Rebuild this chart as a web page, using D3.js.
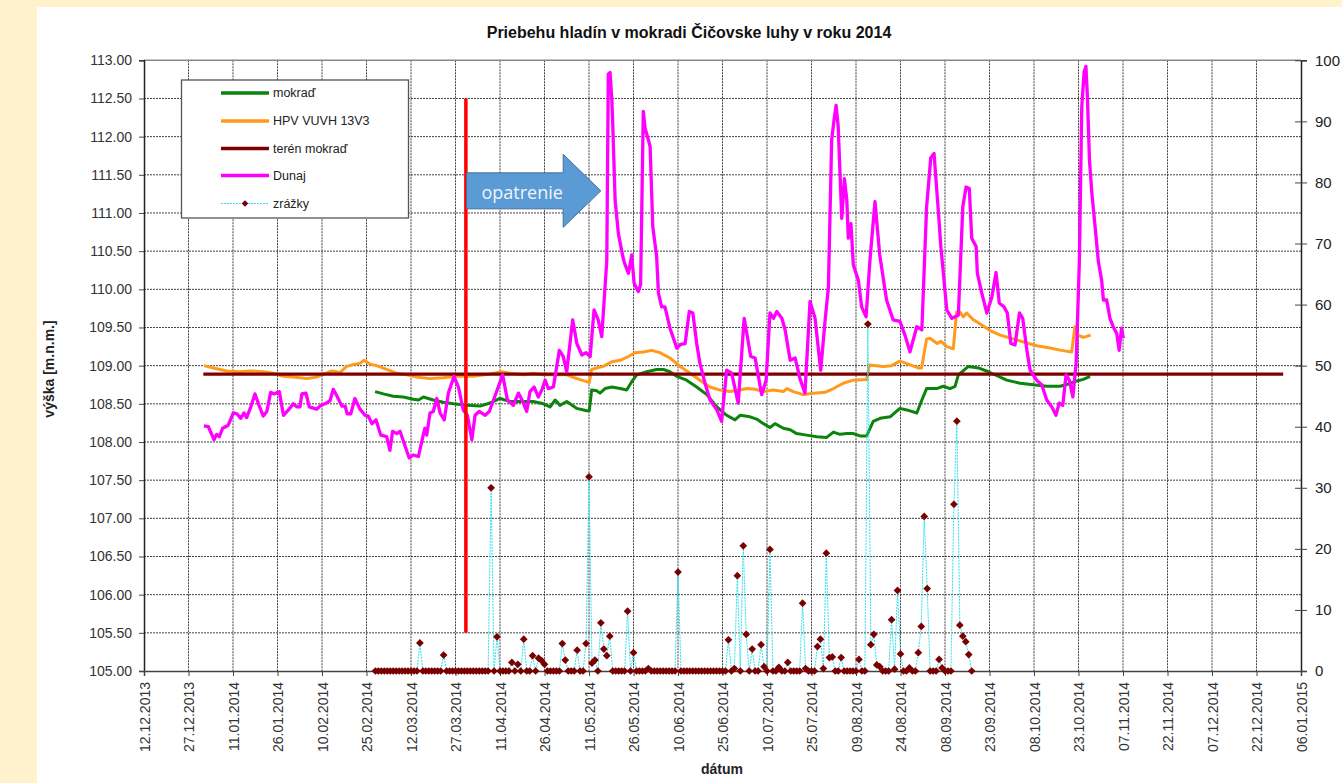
<!DOCTYPE html>
<html><head><meta charset="utf-8">
<script src="https://cdn.jsdelivr.net/npm/d3@7"></script>
<style>
html,body{margin:0;padding:0;background:#fff;}
svg{display:block;font-family:"Liberation Sans",Arial,sans-serif;}
</style></head>
<body>
<svg id="chart" width="1342" height="783"></svg>
<script>
// ---------------- DATA ----------------
// x values: day of year 2014 (1 = 01.01.2014)
const titleText = "Priebehu hladín v mokradi Čičovske luhy v roku 2014";
const seriesNames = ["mokraď", "HPV VUVH 13V3", "terén mokraď", "Dunaj", "zrážky"];
const dateRange = ["2013-12-12", "2015-01-06"];
const leftTicks = [105, 105.5, 106, 106.5, 107, 107.5, 108, 108.5, 109, 109.5, 110, 110.5, 111, 111.5, 112, 112.5, 113];
const rightTicks = [0, 10, 20, 30, 40, 50, 60, 70, 80, 90, 100];

const mokrad = [[58.9,108.66],[61.7,108.63],[65.0,108.60],[68.4,108.59],[71.8,108.56],[73.5,108.55],[75.2,108.59],[78.5,108.55],[81.9,108.52],[85.3,108.50],[89.8,108.48],[94.3,108.47],[97.6,108.51],[101.0,108.57],[104.4,108.53],[108.9,108.53],[112.2,108.53],[115.6,108.50],[117.9,108.46],[119.6,108.55],[121.2,108.48],[123.5,108.53],[126.9,108.44],[130.2,108.41],[131.1,108.41],[131.9,108.68],[133.6,108.67],[134.7,108.64],[136.4,108.70],[138.7,108.72],[141.5,108.70],[143.7,108.68],[145.4,108.79],[147.1,108.88],[150.5,108.92],[153.8,108.95],[156.1,108.95],[158.3,108.92],[160.6,108.86],[163.9,108.81],[167.3,108.72],[170.7,108.62],[174.1,108.46],[177.4,108.35],[180.2,108.29],[181.9,108.35],[185.3,108.33],[187.5,108.30],[189.8,108.24],[192.0,108.19],[193.7,108.24],[196.5,108.18],[198.8,108.16],[201.0,108.11],[204.4,108.09],[207.8,108.07],[211.1,108.06],[213.4,108.13],[215.6,108.10],[217.9,108.11],[220.1,108.11],[222.4,108.08],[224.6,108.08],[226.8,108.27],[229.1,108.31],[232.5,108.33],[235.8,108.44],[238.1,108.42],[241.5,108.38],[243.2,108.55],[244.8,108.70],[248.2,108.70],[250.4,108.73],[252.7,108.70],[254.4,108.73],[255.5,108.88],[258.9,108.99],[262.3,108.97],[265.6,108.92],[271.8,108.81],[276.3,108.77],[280.8,108.75],[285.3,108.73],[289.8,108.73],[292.6,108.76],[295.4,108.80],[297.6,108.82],[299.9,108.86]];

const hpv = [[1.2,109.00],[4.4,108.97],[8.9,108.93],[13.4,108.92],[16.7,108.93],[21.2,108.92],[24.6,108.90],[28.0,108.86],[31.3,108.85],[35.9,108.83],[39.2,108.85],[40.9,108.88],[44.3,108.93],[47.1,108.91],[49.3,108.99],[52.1,109.02],[53.8,109.03],[55.2,109.07],[57.2,109.02],[59.4,109.00],[62.8,108.95],[66.2,108.90],[69.6,108.88],[72.9,108.85],[77.4,108.83],[81.9,108.84],[86.4,108.86],[92.0,108.86],[97.6,108.89],[101.6,108.92],[104.4,108.90],[108.9,108.88],[112.2,108.90],[115.6,108.88],[120.1,108.88],[123.5,108.88],[126.9,108.83],[130.2,108.79],[131.1,108.78],[131.9,108.95],[133.6,108.97],[135.8,108.99],[138.7,109.05],[141.5,109.07],[144.3,109.12],[146.5,109.17],[149.3,109.18],[152.1,109.20],[154.9,109.17],[158.3,109.10],[161.7,108.99],[165.1,108.90],[168.4,108.81],[171.8,108.72],[175.2,108.68],[178.5,108.66],[181.9,108.68],[184.2,108.70],[187.0,108.69],[189.8,108.66],[193.1,108.68],[196.5,108.66],[197.7,108.70],[199.9,108.66],[203.2,108.62],[206.6,108.64],[210.6,108.65],[213.4,108.70],[216.7,108.77],[220.1,108.81],[224.6,108.82],[225.5,109.01],[230.2,108.99],[233.0,109.00],[235.8,109.06],[238.6,109.02],[242.0,108.97],[243.1,108.97],[244.8,109.35],[245.9,109.36],[248.4,109.29],[249.6,109.32],[251.6,109.25],[253.8,109.22],[254.9,109.70],[255.8,109.71],[257.2,109.64],[258.3,109.69],[260.6,109.60],[263.9,109.52],[266.2,109.46],[269.6,109.40],[274.0,109.35],[277.4,109.31],[281.9,109.26],[286.4,109.23],[290.3,109.20],[293.7,109.18],[294.8,109.51],[295.9,109.40],[297.6,109.37],[300.1,109.40]];

const teren = [[1,108.89],[365,108.89]];

const dunaj = [[1.2,108.21],[2.7,108.20],[4.6,108.03],[5.5,108.10],[6.4,108.07],[7.5,108.18],[9.4,108.22],[11.1,108.38],[12.3,108.37],[13.6,108.31],[14.7,108.38],[15.6,108.32],[17.0,108.46],[18.4,108.63],[19.5,108.51],[21.2,108.34],[22.4,108.40],[23.7,108.65],[24.9,108.63],[26.6,108.66],[28.0,108.35],[29.7,108.42],[31.3,108.50],[32.5,108.46],[33.6,108.46],[34.2,108.63],[35.6,108.64],[36.7,108.46],[39.2,108.43],[40.6,108.48],[42.0,108.50],[43.7,108.54],[44.8,108.69],[46.2,108.59],[47.7,108.47],[48.8,108.47],[49.5,108.37],[50.7,108.37],[52.1,108.57],[53.8,108.43],[55.5,108.35],[56.6,108.34],[57.8,108.24],[59.2,108.29],[60.8,108.09],[62.8,108.07],[63.9,107.89],[64.8,108.14],[66.2,108.11],[67.3,108.14],[68.7,107.98],[70.4,107.79],[71.8,107.83],[73.5,107.81],[75.0,108.07],[75.7,108.18],[76.3,108.09],[77.4,108.38],[78.5,108.40],[79.7,108.57],[80.8,108.38],[82.2,108.29],[83.6,108.64],[85.5,108.86],[87.0,108.72],[88.6,108.42],[90.0,108.35],[91.5,108.03],[92.6,108.35],[94.0,108.40],[96.0,108.35],[97.4,108.40],[99.0,108.57],[101.9,108.88],[103.5,108.55],[105.5,108.48],[107.2,108.64],[108.7,108.53],[110.0,108.40],[111.1,108.66],[112.5,108.72],[113.9,108.59],[115.1,108.68],[116.2,108.81],[117.3,108.70],[119.0,108.72],[121.0,109.20],[122.3,109.12],[123.5,108.92],[125.5,109.60],[126.9,109.29],[128.6,109.14],[130.0,109.17],[131.4,109.12],[132.7,109.73],[134.1,109.60],[135.3,109.38],[137.0,110.38],[137.5,112.82],[138.1,112.84],[138.7,112.48],[139.0,112.17],[139.8,111.17],[140.9,110.73],[142.4,110.43],[143.0,110.34],[144.3,110.21],[145.4,110.45],[146.2,110.08],[147.6,109.97],[148.4,110.06],[149.3,112.33],[149.9,112.11],[151.0,111.96],[151.6,111.87],[152.5,110.82],[153.8,110.43],[154.4,109.95],[155.5,109.77],[156.6,109.77],[158.3,109.49],[160.6,109.23],[161.9,109.28],[163.4,109.29],[164.8,109.71],[166.0,109.69],[167.3,109.29],[168.4,109.03],[170.1,108.77],[171.8,108.55],[174.1,108.42],[175.7,108.27],[177.4,108.94],[179.1,108.90],[181.3,108.51],[183.3,109.62],[184.2,109.42],[185.5,109.12],[187.0,109.10],[189.2,108.62],[190.7,108.81],[192.0,109.69],[193.2,109.62],[194.3,109.71],[196.0,109.62],[197.1,109.47],[198.8,109.07],[200.5,109.10],[202.1,108.83],[203.8,108.64],[205.5,109.84],[207.2,109.62],[209.1,108.94],[210.6,109.60],[211.7,110.03],[212.8,111.96],[213.6,112.22],[214.3,112.41],[215.0,112.13],[216.2,110.93],[217.1,111.45],[217.9,111.17],[218.4,110.67],[219.3,110.86],[220.1,110.32],[221.8,110.12],[222.9,109.77],[224.4,109.64],[225.7,110.38],[227.4,111.15],[229.0,110.45],[231.3,109.86],[233.5,109.60],[235.8,109.58],[237.5,109.40],[239.2,109.18],[241.5,109.51],[243.2,109.47],[244.8,111.08],[246.2,111.72],[247.3,111.78],[248.8,111.00],[249.6,110.56],[251.6,109.73],[253.3,109.62],[255.5,109.66],[257.0,111.08],[258.1,111.34],[259.2,111.32],[260.0,110.67],[261.5,110.56],[261.9,110.21],[263.4,109.95],[265.1,109.69],[266.8,109.90],[268.2,110.22],[269.3,109.82],[270.9,109.77],[272.0,109.69],[273.2,109.29],[274.6,109.27],[276.1,109.69],[277.2,109.62],[278.6,109.20],[279.7,108.94],[281.9,108.81],[283.6,108.75],[285.3,108.55],[287.0,108.46],[288.4,108.35],[289.5,108.51],[290.7,108.48],[291.8,108.88],[292.9,108.81],[294.1,108.59],[295.2,109.03],[296.3,110.38],[297.1,112.39],[297.9,112.85],[298.5,112.92],[299.0,112.52],[299.7,111.69],[300.5,111.26],[301.6,110.82],[302.7,110.36],[303.8,110.12],[304.4,109.86],[305.5,109.86],[306.6,109.62],[307.7,109.51],[308.9,109.42],[309.7,109.20],[310.5,109.49],[311.1,109.36]];

// daily precipitation [mm], first value = day 59 (28.02.2014)
const zrazkyStartDay = 59;
const zrazky = [
 0,0,0,0,0,0,0,0,0,0,0,0,0,0,0,        // 59-73
 4.6,0,0,0,0,0,0,0,2.6,                // 74-82
 0,0,0,0,0,0,0,0,0,0,0,0,0,0,0,        // 83-97
 30.0,0,5.6,0,0,0,0,1.4,0,1.1,0,5.2,0,0,2.5,0,2.1,1.7,1.1, // 98-116
 0,0,0,0,0,4.5,1.8,0,0,0,3.4,0,0,4.5,31.8,1.3,1.8,0,7.9,3.6,2.5,5.7, // 117-138
 0,0,0,0,0,9.8,0,3.0,0,0,0,0,0.4,      // 139-151
 0,0,0,0,0,0,0,0,0,16.2,               // 152-161
 0,0,0,0,0,0,0,0,0,0,0,0,0,0,0,0,      // 162-177
 5.1,0,0.4,15.6,0,20.5,6.0,0,3.6,0,0,4.3,0.7,0,19.9,0,0,0.6,0,0,1.4, // 178-198
 0,0,0,0,11.1,0.4,0,0,0,4.0,5.2,0.4,19.3,2.2,2.3,0,0,2.2, // 199-216
 0,0,0,0,0,1.9,0,0,56.8,4.3,6.0,1.0,0.7,0,0,0,8.4,0.3,13.2,2.8, // 217-236
 0,0,0.5,0,0,3.0,7.3,25.3,13.5,0,0,0,1.9,0.5,0,0,0,27.3,40.9,7.5,5.7,4.8,2.7,0 // 237-260
];

// annotation: measure date and arrow placement (data coordinates)
const opatrenieDay = 89.5;       // red vertical line
const opatrenieLevels = [105.5, 112.5];
const arrowDays = [89.7, 122.3, 135.0];   // tail, head base, tip
const arrowLevel = 111.29;

// ---------------- CHART ----------------
const svg = d3.select("#chart");
const W = 1342, H = 783;
const L = 144, R = 1301, T = 60.3, B = 671;
const base2014 = new Date(2014, 0, 1);
const dayToDate = d => new Date(base2014.getTime() + (d - 1) * 864e5);
const parse = d3.timeParse("%Y-%m-%d");

const x = d3.scaleTime().domain(dateRange.map(parse)).range([L, R]);
const y = d3.scaleLinear().domain([105, 113]).range([B, T]);
const y2 = d3.scaleLinear().domain([0, 100]).range([B, T]);

// background
svg.append("rect").attr("width", W).attr("height", H).attr("fill", "#FFF2CC");
svg.append("rect").attr("x", 37).attr("y", 7).attr("width", W - 37).attr("height", H - 7).attr("fill", "#fff");

// title
svg.append("text").attr("x", 689).attr("y", 38).attr("text-anchor", "middle")
  .style("font-size", "16px").style("font-weight", "bold").attr("fill", "#111").text(titleText);

const dateTicks = d3.timeDay.range(parse(dateRange[0]), d3.timeDay.offset(parse(dateRange[1]), 1), 15);

// grid
const grid = svg.append("g");
grid.selectAll("line.h").data(leftTicks.filter(v => v > 105 && v < 113)).join("line")
  .attr("x1", L).attr("x2", R).attr("y1", d => y(d)).attr("y2", d => y(d))
  .attr("stroke", "#222").attr("stroke-width", 1).attr("stroke-dasharray", "2,1").attr("opacity", 0.85);
grid.selectAll("line.v").data(dateTicks.filter((d, i) => i > 0 && i < dateTicks.length - 1)).join("line")
  .attr("y1", T).attr("y2", B).attr("x1", d => x(d)).attr("x2", d => x(d))
  .attr("stroke", "#222").attr("stroke-width", 1).attr("stroke-dasharray", "2,1").attr("opacity", 0.85);

// top border
svg.append("line").attr("x1", L).attr("x2", R).attr("y1", T).attr("y2", T)
  .attr("stroke", "#888").attr("stroke-width", 1.5);

// axes
const fmt = d3.format(".2f");
const gL = svg.append("g").attr("transform", `translate(${L},0)`)
  .call(d3.axisLeft(y).tickValues(leftTicks).tickFormat(fmt).tickSize(5).tickPadding(7));
gL.select(".domain").attr("stroke", "#222").attr("stroke-width", 1.5);
gL.selectAll("text").style("font-size", "14px").attr("fill", "#333").style("font-family", "Liberation Sans, Arial, sans-serif");
gL.selectAll(".tick line").attr("stroke", "#444");

const gR = svg.append("g").attr("transform", `translate(${R},0)`)
  .call(d3.axisRight(y2).tickValues(rightTicks).tickSize(6).tickPadding(8));
gR.select(".domain").attr("stroke", "#222").attr("stroke-width", 1.5);
gR.selectAll(".tick line").attr("x1", -6).attr("stroke", "#444");
gR.selectAll("text").style("font-size", "15px").attr("fill", "#222").style("font-family", "Liberation Sans, Arial, sans-serif");

const gB = svg.append("g").attr("transform", `translate(0,${B})`)
  .call(d3.axisBottom(x).tickValues(dateTicks).tickFormat(d3.timeFormat("%d.%m.%Y")).tickSize(5));
gB.select(".domain").attr("stroke", "#444").attr("stroke-width", 1.5);
gB.selectAll(".tick line").attr("stroke", "#444");
gB.selectAll("text").style("font-size", "14px").attr("fill", "#333").style("font-family", "Liberation Sans, Arial, sans-serif")
  .attr("transform", "rotate(-90)").attr("text-anchor", "end").attr("x", -11).attr("y", 0).attr("dy", "0.36em");

// axis titles
svg.append("text").attr("transform", "translate(54,369) rotate(-90)").attr("text-anchor", "middle")
  .style("font-size", "14px").style("font-weight", "bold").attr("fill", "#222").text("výška [m.n.m.]");
svg.append("text").attr("x", 722).attr("y", 774).attr("text-anchor", "middle")
  .style("font-size", "14px").style("font-weight", "bold").attr("fill", "#222").text("dátum");

// lines
const line = d3.line().x(d => x(dayToDate(d[0]))).y(d => y(d[1]));
const plot = svg.append("g");
plot.append("path").datum(mokrad).attr("d", line).attr("fill", "none").attr("stroke", "#0A840A").attr("stroke-width", 3).attr("stroke-linejoin", "round");
plot.append("path").datum(hpv).attr("d", line).attr("fill", "none").attr("stroke", "#FF9A1A").attr("stroke-width", 3).attr("stroke-linejoin", "round");
plot.append("path").datum(teren).attr("d", line).attr("fill", "none").attr("stroke", "#800000").attr("stroke-width", 3.2);
plot.append("path").datum(dunaj).attr("d", line).attr("fill", "none").attr("stroke", "#FF00FF").attr("stroke-width", 3.3).attr("stroke-linejoin", "round");

// precipitation
const pData = zrazky.map((v, i) => [zrazkyStartDay + i, v]);
const pLine = d3.line().x(d => x(dayToDate(d[0]))).y(d => y2(d[1]));
plot.append("path").datum(pData).attr("d", pLine).attr("fill", "none")
  .attr("stroke", "#33E0F0").attr("stroke-width", 1).attr("stroke-dasharray", "2,1");
const diamond = d3.symbol().type(d3.symbolSquare).size(30);
plot.selectAll("path.dia").data(pData).join("path").attr("class", "dia")
  .attr("transform", d => `translate(${x(dayToDate(d[0]))},${y2(d[1])}) rotate(45)`)
  .attr("d", diamond).attr("fill", "#7A0000");

// red vertical line
svg.append("line").attr("x1", x(dayToDate(opatrenieDay))).attr("x2", x(dayToDate(opatrenieDay)))
  .attr("y1", y(opatrenieLevels[1])).attr("y2", y(opatrenieLevels[0]))
  .attr("stroke", "#FF0000").attr("stroke-width", 3.5);

// arrow
const ax0 = x(dayToDate(arrowDays[0])), ax1 = x(dayToDate(arrowDays[1])), ax2 = x(dayToDate(arrowDays[2]));
const ay = y(arrowLevel);
const bh = 18, hh = 36.5;
svg.append("path").attr("d", `M${ax0},${ay - bh}L${ax1},${ay - bh}L${ax1},${ay - hh}L${ax2},${ay}L${ax1},${ay + hh}L${ax1},${ay + bh}L${ax0},${ay + bh}Z`)
  .attr("fill", "#5B9BD5").attr("stroke", "#41719C").attr("stroke-width", 1);
svg.append("text").attr("x", ax0 + 15).attr("y", ay + 8).style("font-size", "18px")
  .style("font-family", "Open Sans, sans-serif").attr("fill", "#EEF4FB").text("opatrenie");

// legend
const lg = svg.append("g");
lg.append("rect").attr("x", 181.5).attr("y", 80).attr("width", 227).attr("height", 138)
  .attr("fill", "#fff").attr("stroke", "#555").attr("stroke-width", 1.3);
const lgColors = ["#0A840A", "#FF9A1A", "#800000", "#FF00FF"];
const rowY = [93, 121, 148.5, 175.5, 203.5];
seriesNames.forEach((n, i) => {
  if (i < 4) {
    lg.append("line").attr("x1", 221).attr("x2", 269).attr("y1", rowY[i]).attr("y2", rowY[i])
      .attr("stroke", lgColors[i]).attr("stroke-width", 3.5);
  } else {
    lg.append("line").attr("x1", 221).attr("x2", 268).attr("y1", rowY[i]).attr("y2", rowY[i])
      .attr("stroke", "#33E0F0").attr("stroke-width", 1).attr("stroke-dasharray", "2,1");
    lg.append("path").attr("transform", `translate(245,${rowY[i]}) rotate(45)`).attr("d", d3.symbol().type(d3.symbolSquare).size(22)).attr("fill", "#7A0000");
  }
  lg.append("text").attr("x", 273).attr("y", rowY[i]).attr("dy", "0.35em")
    .style("font-size", "12.5px").attr("fill", "#222").text(n);
});
</script>
</body></html>
